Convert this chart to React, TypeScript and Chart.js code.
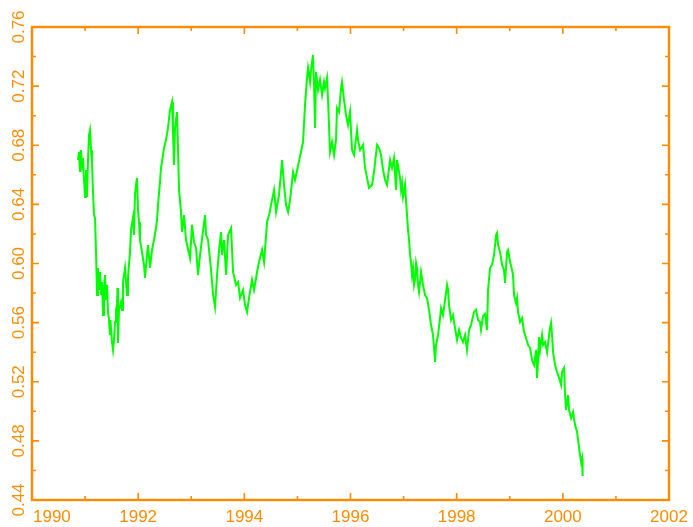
import React, { useEffect, useRef } from "react";
import { Chart, registerables } from "chart.js";

Chart.register(...registerables);

const dates = [
  1990.867, 1990.886, 1990.904, 1990.923, 1990.942, 1990.961, 1990.98, 1990.999, 1991.017, 1991.036,
  1991.055, 1991.074, 1991.093, 1991.112, 1991.13, 1991.149, 1991.168, 1991.187, 1991.206, 1991.225,
  1991.243, 1991.262, 1991.281, 1991.3, 1991.319, 1991.338, 1991.356, 1991.375, 1991.394, 1991.413,
  1991.432, 1991.451, 1991.469, 1991.488, 1991.507, 1991.526, 1991.545, 1991.564, 1991.582, 1991.601,
  1991.611, 1991.62, 1991.639, 1991.677, 1991.696, 1991.714, 1991.733, 1991.752, 1991.771, 1991.79,
  1991.808, 1991.846, 1991.865, 1991.903, 1991.921, 1991.94, 1991.959, 1991.978, 1991.997, 1992.016,
  1992.034, 1992.072, 1992.11, 1992.129, 1992.166, 1992.185, 1992.223, 1992.261, 1992.298, 1992.336,
  1992.355, 1992.374, 1992.411, 1992.43, 1992.468, 1992.487, 1992.524, 1992.562, 1992.6, 1992.638,
  1992.656, 1992.675, 1992.694, 1992.732, 1992.751, 1992.77, 1992.807, 1992.826, 1992.864, 1992.901,
  1992.977, 1993.015, 1993.052, 1993.09, 1993.128, 1993.165, 1993.26, 1993.279, 1993.316, 1993.373,
  1993.411, 1993.448, 1993.486, 1993.524, 1993.561, 1993.58, 1993.618, 1993.656, 1993.693, 1993.75,
  1993.787, 1993.844, 1993.882, 1993.919, 1993.976, 1994.013, 1994.051, 1994.089, 1994.145, 1994.183,
  1994.24, 1994.277, 1994.334, 1994.372, 1994.428, 1994.466, 1994.522, 1994.56, 1994.598, 1994.654,
  1994.692, 1994.711, 1994.748, 1994.786, 1994.824, 1994.861, 1994.918, 1994.955, 1995.106, 1995.143,
  1995.181, 1995.2, 1995.238, 1995.256, 1995.275, 1995.294, 1995.313, 1995.332, 1995.351, 1995.388,
  1995.426, 1995.464, 1995.501, 1995.52, 1995.558, 1995.577, 1995.614, 1995.652, 1995.69, 1995.727,
  1995.746, 1995.784, 1995.822, 1995.84, 1995.878, 1995.916, 1995.953, 1995.991, 1996.029, 1996.067,
  1996.123, 1996.142, 1996.18, 1996.236, 1996.274, 1996.312, 1996.349, 1996.406, 1996.443, 1996.5,
  1996.537, 1996.575, 1996.613, 1996.651, 1996.688, 1996.745, 1996.782, 1996.82, 1996.858, 1996.877,
  1996.914, 1996.933, 1996.952, 1996.971, 1996.99, 1997.009, 1997.027, 1997.065, 1997.084, 1997.103,
  1997.122, 1997.14, 1997.159, 1997.178, 1997.197, 1997.216, 1997.235, 1997.253, 1997.272, 1997.291,
  1997.329, 1997.366, 1997.404, 1997.442, 1997.479, 1997.517, 1997.555, 1997.574, 1997.593, 1997.611,
  1997.649, 1997.687, 1997.706, 1997.743, 1997.781, 1997.819, 1997.837, 1997.856, 1997.894, 1997.932,
  1997.969, 1998.007, 1998.045, 1998.082, 1998.12, 1998.158, 1998.195, 1998.233, 1998.271, 1998.327,
  1998.365, 1998.403, 1998.44, 1998.459, 1998.497, 1998.535, 1998.572, 1998.591, 1998.629, 1998.666,
  1998.704, 1998.723, 1998.742, 1998.761, 1998.78, 1998.817, 1998.855, 1998.892, 1998.911, 1998.949,
  1998.968, 1999.006, 1999.043, 1999.062, 1999.081, 1999.119, 1999.138, 1999.156, 1999.194, 1999.232,
  1999.269, 1999.307, 1999.345, 1999.383, 1999.42, 1999.458, 1999.496, 1999.514, 1999.533, 1999.552,
  1999.571, 1999.609, 1999.628, 1999.665, 1999.703, 1999.741, 1999.759, 1999.778, 1999.797, 1999.816,
  1999.854, 1999.891, 1999.929, 1999.967, 1999.985, 2000.023, 2000.042, 2000.061, 2000.098, 2000.117,
  2000.155, 2000.193, 2000.23, 2000.268, 2000.287, 2000.325, 2000.344, 2000.362, 2000.372,
];

const values = [
  0.67, 0.6755, 0.6619, 0.6768, 0.6667, 0.6714, 0.6565, 0.645, 0.6633, 0.645,
  0.67, 0.687, 0.6903, 0.6768, 0.6687, 0.6484, 0.6328, 0.6308, 0.6078, 0.5787,
  0.597, 0.5821, 0.5943, 0.5787, 0.5875, 0.5652, 0.5821, 0.5922, 0.5753, 0.5855,
  0.5672, 0.5618, 0.5516, 0.5564, 0.5469, 0.5415, 0.5483, 0.5604, 0.5686, 0.5719,
  0.5834, 0.5462, 0.5686, 0.574, 0.5686, 0.5875, 0.5922, 0.597, 0.5875, 0.5787,
  0.5902, 0.6078, 0.6227, 0.6308, 0.6193, 0.6464, 0.6531, 0.6579, 0.6362, 0.6281,
  0.6159, 0.6078, 0.599, 0.5902, 0.6058, 0.6125, 0.597, 0.6092, 0.6159, 0.624,
  0.6295, 0.6396, 0.6552, 0.6646, 0.6734, 0.6782, 0.6836, 0.6917, 0.7039, 0.7093,
  0.6903, 0.6667, 0.6917, 0.7025, 0.6768, 0.6498, 0.6349, 0.6213, 0.6328, 0.6159,
  0.6037, 0.6261, 0.6145, 0.6105, 0.5922, 0.6058, 0.6328, 0.6193, 0.6159, 0.5956,
  0.5787, 0.5706, 0.5922, 0.6092, 0.6213, 0.6058, 0.6159, 0.5922, 0.6193, 0.624,
  0.5943, 0.5855, 0.5875, 0.5767, 0.5821, 0.5719, 0.5672, 0.5767, 0.5889, 0.5821,
  0.5943, 0.601, 0.6092, 0.601, 0.6281, 0.6328, 0.643, 0.6498, 0.6349, 0.6464,
  0.6619, 0.67, 0.6531, 0.6396, 0.6349, 0.643, 0.6619, 0.6565, 0.6822, 0.7073,
  0.7255, 0.7323, 0.7228, 0.7309, 0.7363, 0.7411, 0.7208, 0.6917, 0.7296, 0.7174,
  0.7242, 0.714, 0.7228, 0.7187, 0.7255, 0.7106, 0.6755, 0.6822, 0.6734, 0.6836,
  0.7052, 0.7025, 0.7187, 0.7228, 0.7106, 0.7005, 0.6937, 0.7025, 0.6768, 0.6734,
  0.6903, 0.6836, 0.6768, 0.6802, 0.6646, 0.6579, 0.6511, 0.6531, 0.6619, 0.6802,
  0.6782, 0.6734, 0.6633, 0.6565, 0.6531, 0.67, 0.6646, 0.6714, 0.6498, 0.67,
  0.6619, 0.6579, 0.6498, 0.6545, 0.645, 0.6484, 0.6531, 0.6328, 0.6227, 0.6159,
  0.6058, 0.601, 0.5922, 0.597, 0.5855, 0.5889, 0.6004, 0.597, 0.5855, 0.5807,
  0.5943, 0.5855, 0.5787, 0.5767, 0.5686, 0.5584, 0.5516, 0.5428, 0.5334, 0.5449,
  0.5516, 0.5631, 0.5699, 0.5652, 0.5753, 0.5855, 0.5821, 0.5719, 0.5618, 0.5652,
  0.5564, 0.5483, 0.555, 0.5496, 0.5469, 0.5516, 0.5415, 0.555, 0.5584, 0.5672,
  0.5686, 0.5618, 0.5604, 0.555, 0.5645, 0.5659, 0.555, 0.5821, 0.597, 0.599,
  0.6058, 0.6125, 0.6193, 0.6207, 0.6125, 0.6078, 0.599, 0.5956, 0.5868, 0.6078,
  0.6092, 0.601, 0.5956, 0.5922, 0.5787, 0.5733, 0.5767, 0.5672, 0.5604, 0.5631,
  0.5537, 0.5496, 0.5449, 0.5428, 0.5347, 0.5313, 0.5415, 0.5225, 0.5347, 0.5503,
  0.5415, 0.5516, 0.5449, 0.5469, 0.5401, 0.5516, 0.5564, 0.5598, 0.5516, 0.5401,
  0.5313, 0.5266, 0.5225, 0.5178, 0.5266, 0.5293, 0.511, 0.5009, 0.511, 0.5009,
  0.4955, 0.4995, 0.4907, 0.486, 0.4806, 0.4704, 0.4657, 0.4684, 0.4562,
];

const xMajorTicks = [1990, 1992, 1994, 1996, 1998, 2000, 2002];
const xMinorTicks = [1991, 1993, 1995, 1997, 1999, 2001];
const yMajorTicks = [0.44, 0.48, 0.52, 0.56, 0.6, 0.64, 0.68, 0.72, 0.76];
const yMinorTicks = [0.46, 0.5, 0.54, 0.58, 0.62, 0.66, 0.7, 0.74];

const AXIS_COLOR = "#ff8c00";
const LINE_COLOR = "#00ff00";
const FONT = "17px 'Liberation Sans', Arial, sans-serif";

const boxAxesPlugin = {
  id: "boxAxes",
  afterDatasetsDraw(chart: any) {
    const { ctx, chartArea, scales } = chart;
    const xs = scales.x;
    const ys = scales.y;
    const { left, right, top, bottom } = chartArea;
    ctx.save();
    ctx.strokeStyle = AXIS_COLOR;
    ctx.fillStyle = AXIS_COLOR;
    ctx.lineWidth = 2.4;
    ctx.strokeRect(left, top, right - left, bottom - top);

    ctx.lineWidth = 1.6;
    const majorLen = 7;
    const minorLen = 4;
    ctx.beginPath();
    const xTick = (v: number, len: number) => {
      const px = xs.getPixelForValue(v);
      ctx.moveTo(px, bottom);
      ctx.lineTo(px, bottom - len);
      ctx.moveTo(px, top);
      ctx.lineTo(px, top + len);
    };
    const yTick = (v: number, len: number) => {
      const py = ys.getPixelForValue(v);
      ctx.moveTo(left, py);
      ctx.lineTo(left + len, py);
      ctx.moveTo(right, py);
      ctx.lineTo(right - len, py);
    };
    xMajorTicks.forEach((v) => xTick(v, majorLen));
    xMinorTicks.forEach((v) => xTick(v, minorLen));
    yMajorTicks.forEach((v) => yTick(v, majorLen));
    yMinorTicks.forEach((v) => yTick(v, minorLen));
    ctx.stroke();

    ctx.font = FONT;
    ctx.textBaseline = "alphabetic";
    xMajorTicks.forEach((v) => {
      const label = String(v);
      const w = ctx.measureText(label).width;
      let px = xs.getPixelForValue(v) - w / 2;
      if (px < left) px = left + 1;
      ctx.textAlign = "left";
      ctx.fillText(label, px, bottom + 22);
    });

    yMajorTicks.forEach((v) => {
      const label = v.toFixed(2);
      const py = ys.getPixelForValue(v);
      ctx.save();
      ctx.translate(19, py);
      ctx.rotate(-Math.PI / 2);
      ctx.textAlign = "center";
      ctx.textBaseline = "middle";
      ctx.fillText(label, 0, 0);
      ctx.restore();
    });
    ctx.restore();
  },
};

export default function App() {
  const canvasRef = useRef<HTMLCanvasElement | null>(null);

  useEffect(() => {
    if (!canvasRef.current) return;
    const chart = new Chart(canvasRef.current, {
      type: "line",
      data: {
        datasets: [
          {
            data: dates.map((d, i) => ({ x: d, y: values[i] })),
            borderColor: LINE_COLOR,
            borderWidth: 2,
            pointRadius: 0,
            tension: 0,
            fill: false,
          },
        ],
      },
      options: {
        animation: false,
        responsive: false,
        maintainAspectRatio: false,
        layout: { padding: { left: 32, right: 24, top: 27, bottom: 27 } },
        plugins: { legend: { display: false }, tooltip: { enabled: false } },
        scales: {
          x: { type: "linear", min: 1990, max: 2002, display: false },
          y: { type: "linear", min: 0.44, max: 0.76, display: false },
        },
      },
      plugins: [boxAxesPlugin],
    });
    return () => chart.destroy();
  }, []);

  return (
    <div style={{ position: "fixed", left: 0, top: 0, width: 693, height: 527, background: "#fff" }}>
      <canvas ref={canvasRef} width={693} height={527} />
    </div>
  );
}
